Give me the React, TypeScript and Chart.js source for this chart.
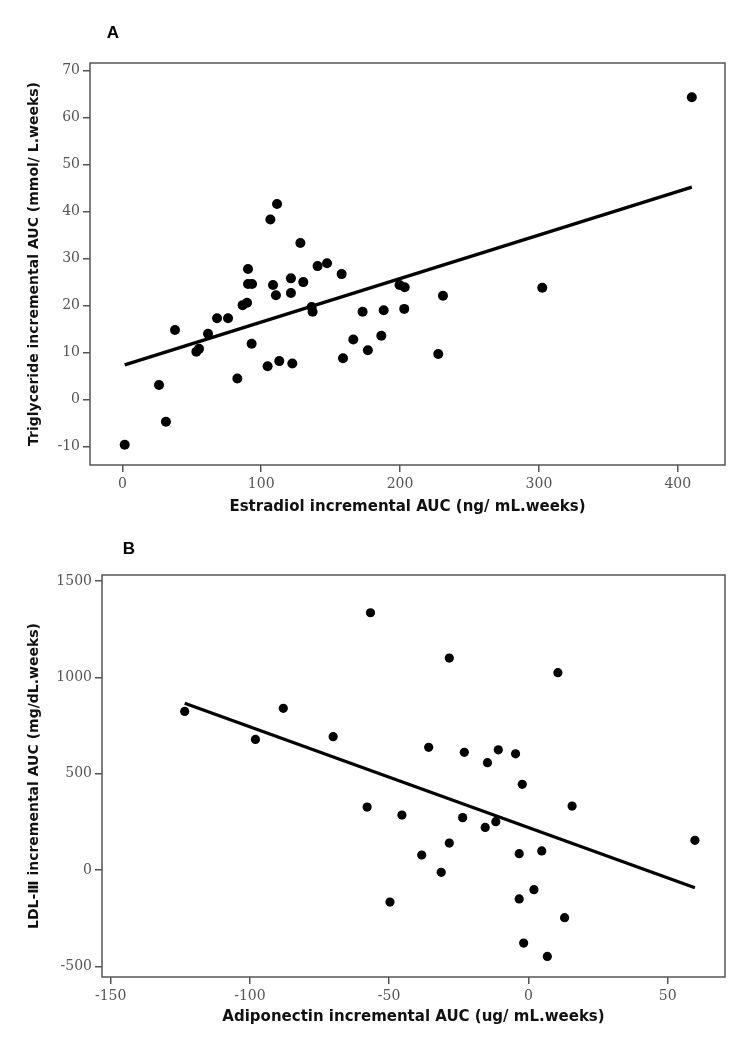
import React, { useEffect, useRef } from 'react';
import { Chart, registerables } from 'chart.js';

Chart.register(...registerables);

// ---------- Panel A data ----------
const estradiolAUC = [
  1.7, 26.4, 31.4, 37.9, 53.3, 55.2, 61.7, 68.2, 76.1, 82.8, 86.6, 89.8, 90.5, 90.5, 93.4,
  93.1, 104.6, 106.6, 108.5, 110.6, 111.4, 113.0, 121.4, 121.4, 122.4, 128.2, 130.3, 136.3,
  137.0, 140.6, 147.4, 157.9, 158.9, 166.3, 173.0, 176.8, 186.5, 188.2, 199.6, 203.3, 203.0,
  227.5, 230.9, 302.4, 410.1,
];
const triglycerideAUC = [
  -9.6, 3.1, -4.7, 14.8, 10.2, 10.8, 14.0, 17.3, 17.3, 4.5, 20.1, 20.6, 27.8, 24.6, 24.6,
  11.9, 7.1, 38.3, 24.4, 22.2, 41.6, 8.2, 25.8, 22.7, 7.7, 33.3, 25.0, 19.7,
  18.7, 28.4, 29.0, 26.7, 8.8, 12.8, 18.7, 10.5, 13.6, 19.0, 24.4, 23.9, 19.3,
  9.7, 22.1, 23.8, 64.3,
];
const fitAx = [1.7, 410.1];
const fitAy = [7.4, 45.2];
const xTicksA = [0, 100, 200, 300, 400];
const yTicksA = [-10, 0, 10, 20, 30, 40, 50, 60, 70];

// ---------- Panel B data ----------
const adiponectinAUC = [
  -123.4, -98.0, -88.0, -70.1, -56.7, -57.9, -45.4, -49.7, -28.4, 10.6, -35.8, -23.0, -10.8,
  -14.7, -4.6, -2.2, 15.7, -23.6, -15.5, -11.7, -28.4, -38.3, -31.3, -3.3, 4.8, 59.8, 2.0,
  -3.3, 13.0, -1.7, 6.8,
];
const ldl3AUC = [
  823, 678, 839, 692, 1335, 327, 285, -166, 1100, 1024, 637, 611, 624,
  557, 603, 445, 332, 272, 221, 251, 140, 78, -12, 85, 99, 154, -102,
  -150, -247, -379, -448,
];
const fitBx = [-123.4, 59.8];
const fitBy = [865, -92];
const xTicksB = [-150, -100, -50, 0, 50];
const yTicksB = [-500, 0, 500, 1000, 1500];

const framePlugin = {
  id: 'frame',
  beforeDatasetsDraw(chart: any) {
    const { ctx, chartArea } = chart;
    const { left, top, right, bottom } = chartArea;
    ctx.save();
    ctx.strokeStyle = '#555';
    ctx.lineWidth = 1.5;
    ctx.strokeRect(left, top, right - left, bottom - top);
    ctx.restore();
  },
};

const panelLabelPlugin = {
  id: 'panelLabel',
  afterDraw(chart: any, _args: any, opts: any) {
    if (!opts || !opts.text) return;
    const { ctx } = chart;
    ctx.save();
    ctx.fillStyle = '#000';
    ctx.font = 'bold 17px "Liberation Sans", Arial, sans-serif';
    ctx.textAlign = 'center';
    ctx.textBaseline = 'middle';
    ctx.fillText(opts.text, opts.x, opts.y);
    ctx.restore();
  },
};

type PanelProps = {
  width: number;
  height: number;
  xs: number[];
  ys: number[];
  fitX: number[];
  fitY: number[];
  xTicks: number[];
  yTicks: number[];
  xMin: number;
  xMax: number;
  yMin: number;
  yMax: number;
  xTitle: string;
  yTitle: string;
  yAxisWidth: number;
  xAxisHeight: number;
  padTop: number;
  padRight: number;
  xTitlePadBottom: number;
  pointRadius: number;
  label: string;
  labelX: number;
  labelY: number;
};

function Panel(p: PanelProps) {
  const ref = useRef<HTMLCanvasElement | null>(null);
  useEffect(() => {
    if (!ref.current) return;
    const points = p.xs.map((x, i) => ({ x, y: p.ys[i] }));
    const fit = p.fitX.map((x, i) => ({ x, y: p.fitY[i] }));
    const tickFont = { family: '"DejaVu Serif", serif', size: 14 };
    const xTitleFont = { family: '"DejaVu Sans", Verdana, sans-serif', size: 15, weight: 'bold' as const };
    const yTitleFont = { family: '"DejaVu Sans", Verdana, sans-serif', size: 14, weight: 'bold' as const };
    const chart = new Chart(ref.current, {
      type: 'scatter',
      data: {
        datasets: [
          {
            data: fit,
            showLine: true,
            borderColor: '#000',
            borderWidth: 3.2,
            pointRadius: 0,
            pointHoverRadius: 0,
            fill: false,
          } as any,
          {
            data: points,
            backgroundColor: '#000',
            borderColor: '#000',
            borderWidth: 0,
            pointRadius: p.pointRadius,
            pointHoverRadius: p.pointRadius,
            clip: false,
          } as any,
        ],
      },
      options: {
        responsive: false,
        animation: false,
        devicePixelRatio: 1,
        layout: { padding: { left: 0, right: p.padRight, top: p.padTop, bottom: 0 } },
        plugins: {
          legend: { display: false },
          tooltip: { enabled: false },
          panelLabel: { text: p.label, x: p.labelX, y: p.labelY },
        } as any,
        scales: {
          x: {
            type: 'linear',
            min: p.xMin,
            max: p.xMax,
            afterBuildTicks: (s: any) => {
              s.ticks = p.xTicks.map((v) => ({ value: v }));
            },
            afterFit: (s: any) => {
              s.height = p.xAxisHeight;
            },
            grid: { drawOnChartArea: false, drawTicks: true, tickLength: 7, color: '#555', lineWidth: 1.5 },
            border: { display: false },
            ticks: {
              color: '#555',
              font: tickFont,
              padding: 4,
              maxRotation: 0,
              autoSkip: false,
              callback: (v: any) => String(v),
            },
            title: {
              display: true,
              text: p.xTitle,
              color: '#111',
              font: xTitleFont,
              padding: { top: 0, bottom: p.xTitlePadBottom },
            },
          },
          y: {
            type: 'linear',
            min: p.yMin,
            max: p.yMax,
            afterBuildTicks: (s: any) => {
              s.ticks = p.yTicks.map((v) => ({ value: v }));
            },
            afterFit: (s: any) => {
              s.width = p.yAxisWidth;
            },
            grid: { drawOnChartArea: false, drawTicks: true, tickLength: 7, color: '#555', lineWidth: 1.5 },
            border: { display: false },
            ticks: {
              color: '#555',
              font: tickFont,
              padding: 3,
              autoSkip: false,
              callback: (v: any) => String(v),
            },
            title: {
              display: true,
              text: p.yTitle,
              color: '#111',
              font: yTitleFont,
              padding: { top: 26, bottom: 0 },
            },
          },
        },
      } as any,
      plugins: [framePlugin, panelLabelPlugin],
    });
    return () => chart.destroy();
  }, []);
  return <canvas ref={ref} width={p.width} height={p.height} style={{ display: 'block', width: p.width, height: p.height }} />;
}

export default function App() {
  return (
    <div style={{ position: 'absolute', left: 0, top: 0, width: 744, height: 1049, background: '#fff' }}>
      <Panel
        width={744}
        height={525}
        xs={estradiolAUC}
        ys={triglycerideAUC}
        fitX={fitAx}
        fitY={fitAy}
        xTicks={xTicksA}
        yTicks={yTicksA}
        xMin={-23.3}
        xMax={434}
        yMin={-13.9}
        yMax={71.6}
        xTitle="Estradiol incremental AUC (ng/ mL.weeks)"
        yTitle="Triglyceride incremental AUC (mmol/ L.weeks)"
        yAxisWidth={90}
        xAxisHeight={60}
        padTop={63}
        padRight={19}
        xTitlePadBottom={9}
        pointRadius={5}
        label="A"
        labelX={113}
        labelY={33}
      />
      <Panel
        width={744}
        height={524}
        xs={adiponectinAUC}
        ys={ldl3AUC}
        fitX={fitBx}
        fitY={fitBy}
        xTicks={xTicksB}
        yTicks={yTicksB}
        xMin={-153.1}
        xMax={70.6}
        yMin={-555}
        yMax={1531}
        xTitle="Adiponectin incremental AUC (ug/ mL.weeks)"
        yTitle="LDL-Ⅲ incremental AUC (mg/dL.weeks)"
        yAxisWidth={102}
        xAxisHeight={72}
        padTop={50}
        padRight={19}
        xTitlePadBottom={23}
        pointRadius={4.6}
        label="B"
        labelX={129}
        labelY={24}
      />
    </div>
  );
}
